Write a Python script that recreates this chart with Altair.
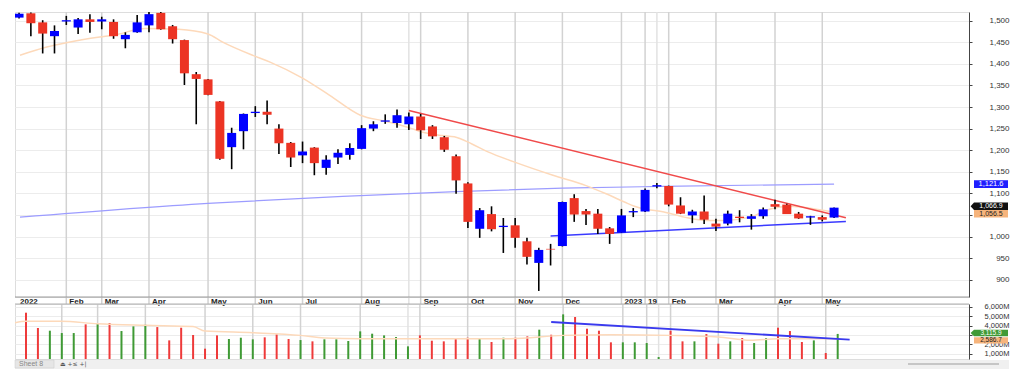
import altair as alt
import pandas as pd

# ---------------- data ----------------
opens  = [1507, 1517, 1496, 1464, 1498, 1484, 1503, 1498, 1497, 1457,
          1473, 1489, 1518, 1487, 1455, 1376, 1364, 1313, 1207, 1244,
          1286, 1289, 1250, 1217, 1188, 1206, 1159, 1183, 1189, 1203,
          1250, 1266, 1263, 1260, 1278, 1255, 1230, 1186, 1123, 1018,
          1052, 1022, 1026, 989, 939, 971.5, 978, 1089, 1059, 1053,
          1019, 1009, 1056, 1058, 1116, 1117, 1072, 1049, 1058, 1030,
          1030, 1046, 1041, 1047, 1075, 1074, 1053, 1044, 1045, 1044]
highs  = [1518, 1519, 1501, 1489, 1511, 1506, 1515, 1509, 1503, 1473,
          1513, 1520, 1520, 1490, 1456, 1381, 1365, 1314, 1252, 1285,
          1302, 1315, 1260, 1219, 1220, 1207, 1188, 1202, 1216, 1258,
          1267, 1283, 1294, 1287, 1284, 1258, 1233, 1190, 1126, 1066,
          1070, 1043, 1043, 997, 974, 983, 1081, 1098, 1064, 1064,
          1022, 1064, 1066, 1111, 1124, 1118, 1091, 1062, 1095, 1041,
          1060, 1061, 1052, 1067, 1085, 1076, 1057, 1048, 1049, 1067]
lows   = [1505, 1464, 1424, 1424, 1490, 1469, 1472, 1480, 1458, 1436,
          1472, 1473, 1479, 1447, 1351, 1260, 1327, 1178, 1156, 1202,
          1277, 1260, 1191, 1161, 1170, 1142, 1143, 1168, 1178, 1202,
          1244, 1261, 1252, 1247, 1226, 1226, 1196, 1099, 1020, 997,
          1012, 962, 974, 935, 874, 933, 977, 1034, 1027, 1006,
          983, 1009, 1045, 1057, 1112, 1070, 1052, 1031, 1029, 1013,
          1026, 1033, 1016, 1041, 1063, 1052, 1041, 1027, 1035, 1043]
closes = [1516, 1494, 1470, 1476, 1501, 1503, 1497, 1503, 1464, 1467,
          1496, 1515, 1480, 1457, 1378, 1365, 1328, 1180, 1240, 1284,
          1289, 1282, 1216, 1183, 1197, 1170, 1178, 1194, 1205, 1251,
          1260, 1269, 1281, 1278, 1246, 1232, 1201, 1130, 1034, 1061,
          1017, 1025, 997, 953, 969, 970, 1080, 1051, 1051, 1018,
          1006, 1049, 1059, 1108, 1119, 1074, 1053, 1058, 1039, 1023,
          1053, 1043, 1047, 1063, 1069, 1052, 1042, 1047, 1039, 1066.9]
volumes = [None, 5390, 3750, 3460, 3210, 3210, 4140, 4210, 4280, 3425,
           3925, 4100, 3850, 2425, 3780, 3000, 1535, 2960, 2570, 2710,
           2535, 2750, 3070, 2570, 2460, 2320, 2535, 2535, 2355, 3390,
           3140, 2960, 2785, 1785, 2960, 2390, 2320, 2675, 2710, 2570,
           2250, 2710, 2710, 2855, 3570, 3030, 5210, 4925, 3675, 3460,
           2215, 2215, 2215, 2140, 640, 3460, 2320, 2320, 3100, 2070,
           2320, 2675, 2140, 2675, 3780, 3425, 2250, 2425, 1070, 3116]

ma_idx = [0.08, 2.35, 4.0, 6.84, 7.96, 10.7, 13.5, 16.0, 17.2, 19.85,
          21.25, 24.0, 26.3, 28.9, 31.0, 33.25, 34.1, 35.8, 36.85, 38.3,
          39.7, 41.9, 45.2, 48.0, 49.7, 51.25, 52.1, 52.9, 54.6, 56.3,
          58.2, 59.6, 61.9, 63.6, 65.2, 68.0, 69.0]
ma_val = [1420, 1439, 1449, 1462, 1466, 1482, 1480, 1469, 1451, 1419,
          1404, 1367, 1327, 1281, 1267, 1250, 1242, 1234, 1231, 1215,
          1196, 1173, 1142, 1118, 1099, 1080, 1070, 1064, 1057, 1045,
          1037, 1037, 1045, 1064, 1070, 1061, 1056.5]

lma_idx = [0.08, 16.0, 27.4, 37.0, 46.0, 54.4, 69.0]
lma_val = [1045, 1077, 1093, 1104, 1112, 1116, 1121.6]

vma_idx = [0.08, 1.0, 3.9, 7.0, 11.0, 15.0, 16.0, 20.0, 24.0, 26.0,
           29.0, 41.6, 46.0, 50.0, 55.0, 59.0, 61.7, 64.0, 66.7, 69.0]
vma_val = [4315, 4465, 4465, 4210, 4035, 3900, 3425, 3245, 2960, 2675,
           2600, 2600, 2960, 3030, 2960, 2785, 2425, 2600, 2600, 2587]

res_idx = [33, 70]          # red resistance line
res_val = [1292, 1043.5]
sup_idx = [45, 70]          # blue support line
sup_val = [1001, 1035]
vtr_idx = [45, 70]          # volume trend line
vtr_val = [4390, 2495]

month_idx = [4, 7, 11, 16, 20, 24, 29, 34, 38, 42, 46, 51, 53, 55, 59, 64, 68]
month_lbl = ["Feb", "Mar", "Apr", "May", "Jun", "Jul", "Aug", "Sep", "Oct",
             "Nov", "Dec", "2023", "19", "Feb", "Mar", "Apr", "May"]
extra_grid = [33, 54]

price_ticks = list(range(900, 1501, 50))
vol_ticks = [1000, 2000, 3000, 4000, 5000, 6000]

# ---------------- layout ----------------
W = 954
H_MAIN = 285
H_VOL = 55
FONT = "Liberation Sans"

candles = pd.DataFrame({"i": list(range(len(opens))), "open": opens,
                        "high": highs, "low": lows, "close": closes})
vol = pd.DataFrame({"i": list(range(len(opens))), "vol": volumes,
                    "open": opens, "close": closes})
ma = pd.DataFrame({"i": ma_idx, "v": ma_val})
lma = pd.DataFrame({"i": lma_idx, "v": lma_val})
vma = pd.DataFrame({"i": vma_idx, "v": vma_val})
res = pd.DataFrame({"i": res_idx, "v": res_val})
sup = pd.DataFrame({"i": sup_idx, "v": sup_val})
vtr = pd.DataFrame({"i": vtr_idx, "v": vtr_val})
months = pd.DataFrame({"i": month_idx, "t": month_lbl})
extra = pd.DataFrame({"i": extra_grid})
first = pd.DataFrame({"i": [0.08], "t": ["2022"]})
one = pd.DataFrame({"k": [0]})

xs = alt.Scale(domain=[0.08, 80], nice=False, zero=False)


def X(field="i"):
    return alt.X(f"{field}:Q", scale=xs, axis=None, title=None)


price_axis = alt.Axis(orient="right", values=price_ticks,
                      labelExpr="datum.value == 1050 ? '' : format(datum.value, ',')",
                      grid=True, gridColor="#ececec", gridWidth=1,
                      domainColor="#444", tickColor="#444", tickSize=3,
                      labelAlign="right", labelPadding=37, labelFontSize=8,
                      labelColor="#333", labelFont=FONT)
ps = alt.Scale(domain=[860, 1520], nice=False, zero=False)


def YP(field):
    return alt.Y(f"{field}:Q", scale=ps, axis=price_axis, title=None)


vol_axis = alt.Axis(orient="right", values=vol_ticks,
                    labelExpr="datum.value == 3000 ? '' : format(datum.value, ',') + 'M'",
                    grid=True, gridColor="#ececec", gridWidth=1,
                    domainColor="#444", tickColor="#444", tickSize=3,
                    labelAlign="right", labelPadding=37, labelFontSize=7.5,
                    labelColor="#333", labelFont=FONT)
vs = alt.Scale(domain=[430, 6320], nice=False, zero=False)


def YV(field):
    return alt.Y(f"{field}:Q", scale=vs, axis=vol_axis, title=None)


def tag(value, text, fill, tcolor, yfn, arrow=False, dy=0, h=0.23, fs=7.5):
    path = (f"M-1.2,0 L-1,-{h} L1,-{h} L1,{h} L-1,{h} Z" if arrow
            else f"M-1,-{h} L1,-{h} L1,{h} L-1,{h} Z")
    d = pd.DataFrame({"v": [value], "t": [text]})
    box = alt.Chart(d).mark_point(shape=path, size=34 * 34, filled=True,
                                  opacity=1, color=fill, clip=False,
                                  yOffset=dy).encode(
        x=alt.value(W + 22), y=yfn("v"))
    txt = alt.Chart(d).mark_text(fontSize=fs, font=FONT, color=tcolor,
                                 clip=False, dy=dy).encode(
        x=alt.value(W + 22), y=yfn("v"), text="t:N")
    return box + txt


# ---------------- main price panel ----------------
grid_main = alt.Chart(months).mark_rule(color="#d2d2d2", strokeWidth=1.5).encode(
    x=X(), y=alt.value(0), y2=alt.value(H_MAIN + 7))
grid_extra = alt.Chart(extra).mark_rule(color="#e2e2e2", strokeWidth=1.5).encode(
    x=X(), y=alt.value(0), y2=alt.value(H_MAIN + 7))
base_line = alt.Chart(one).mark_rule(color="#9a9a9a", strokeWidth=1).encode(
    x=alt.value(0), x2=alt.value(W), y=alt.value(H_MAIN))

lma_line = alt.Chart(lma).mark_line(color="#9c9cff", strokeWidth=1.2,
                                    interpolate="monotone", clip=True).encode(
    x=X(), y=YP("v"))
ma_line = alt.Chart(ma).mark_line(color="#fdd9ba", strokeWidth=1.5,
                                  interpolate="monotone", clip=True).encode(
    x=X(), y=YP("v"))
res_line = alt.Chart(res).mark_line(color="#f04a4a", strokeWidth=1.5).encode(
    x=X(), y=YP("v"))
sup_line = alt.Chart(sup).mark_line(color="#3a3aff", strokeWidth=1.5).encode(
    x=X(), y=YP("v"))

up_cond = "datum.close >= datum.open"
wicks = alt.Chart(candles).mark_rule(color="#000000", strokeWidth=1.6,
                                     clip=True).encode(
    x=X(), y=YP("low"), y2="high:Q")
bodies = alt.Chart(candles).mark_bar(width=9, clip=True).encode(
    x=X(), y=YP("open"), y2="close:Q",
    color=alt.condition(up_cond, alt.value("#0000ff"), alt.value("#ec3424")))

mlabels = alt.Chart(months).mark_text(align="left", baseline="top", dx=3,
                                      fontSize=8, fontWeight="bold",
                                      font=FONT, color="#222").encode(
    x=X(), y=alt.value(H_MAIN + 0.5), text="t:N")
flabel = alt.Chart(first).mark_text(align="left", baseline="top",
                                    fontSize=8, fontWeight="bold",
                                    font=FONT, color="#222").encode(
    x=X(), y=alt.value(H_MAIN + 0.5), text="t:N")

main = alt.layer(
    grid_main, grid_extra, lma_line, ma_line, res_line, sup_line,
    wicks, bodies, base_line, mlabels, flabel,
    tag(1121.6, "1,121.6", "#1f1fff", "#ffffff", YP),
    tag(1056.5, "1,056.5", "#f6b47c", "#222222", YP, dy=1.5, h=0.22, fs=7),
    tag(1066.9, "1,066.9", "#111111", "#ffffff", YP, arrow=True, dy=-1.5,
        h=0.22, fs=7),
).properties(width=W, height=H_MAIN)

# ---------------- volume panel ----------------
grid_vol = alt.Chart(months).mark_rule(color="#d2d2d2", strokeWidth=1.5).encode(
    x=X(), y=alt.value(0), y2=alt.value(H_VOL))
grid_vol_extra = alt.Chart(extra).mark_rule(color="#e2e2e2", strokeWidth=1.5).encode(
    x=X(), y=alt.value(0), y2=alt.value(H_VOL))
top_line = alt.Chart(one).mark_rule(color="#b0b0b0", strokeWidth=1).encode(
    x=alt.value(0), x2=alt.value(W), y=alt.value(0))
vbars = alt.Chart(vol).mark_rule(strokeWidth=2, clip=True).encode(
    x=X(), y=YV("vol"), y2=alt.value(H_VOL),
    color=alt.condition(up_cond, alt.value("#3f9a35"), alt.value("#ee3a3a")))
vma_line = alt.Chart(vma).mark_line(color="#fdd9ba", strokeWidth=1.5,
                                    interpolate="monotone", clip=True).encode(
    x=X(), y=YV("v"))
vtr_line = alt.Chart(vtr).mark_line(color="#3a3aee", strokeWidth=1.8).encode(
    x=X(), y=YV("v"))

footer_band = alt.Chart(one).mark_rect(color="#f0f0f0").encode(
    x=alt.value(0), x2=alt.value(W + 40), y=alt.value(H_VOL + 1),
    y2=alt.value(H_VOL + 10))
sheet_tab = alt.Chart(one).mark_rect(color="#e6e6e6", stroke="#c8c8c8",
                                     strokeWidth=0.5).encode(
    x=alt.value(0), x2=alt.value(39), y=alt.value(H_VOL + 1),
    y2=alt.value(H_VOL + 9))
sheet_txt = alt.Chart(one).mark_text(text="Sheet 8", align="left",
                                     baseline="middle", fontSize=7,
                                     font=FONT, color="#888").encode(
    x=alt.value(4), y=alt.value(H_VOL + 5))
icons_txt = alt.Chart(one).mark_text(text="⏏  +≤  +|", align="left",
                                     baseline="middle", fontSize=6,
                                     font="DejaVu Sans", color="#555").encode(
    x=alt.value(45), y=alt.value(H_VOL + 5))
scroll = alt.Chart(one).mark_rule(color="#b8b8b8", strokeWidth=1.5).encode(
    x=alt.value(893), x2=alt.value(984), y=alt.value(H_VOL + 5))

volume = alt.layer(
    grid_vol, grid_vol_extra, top_line, vbars, vma_line, vtr_line,
    footer_band, sheet_tab, sheet_txt, icons_txt, scroll,
    tag(3115.9, "3,115.9", "#3f9a35", "#ffffff", YV, arrow=True, dy=-1,
        h=0.19, fs=6.5),
    tag(2586.7, "2,586.7", "#f6b47c", "#222222", YV, dy=1.5, h=0.19, fs=6.5),
).properties(width=W, height=H_VOL)

chart = alt.vconcat(main, volume, spacing=7, bounds="flush").properties(
    padding={"left": 6, "top": 2, "right": 0, "bottom": 0}
).configure_view(stroke=None).configure(background="#ffffff")

chart.save("out.html", embed_options={"renderer": "svg", "actions": False})
